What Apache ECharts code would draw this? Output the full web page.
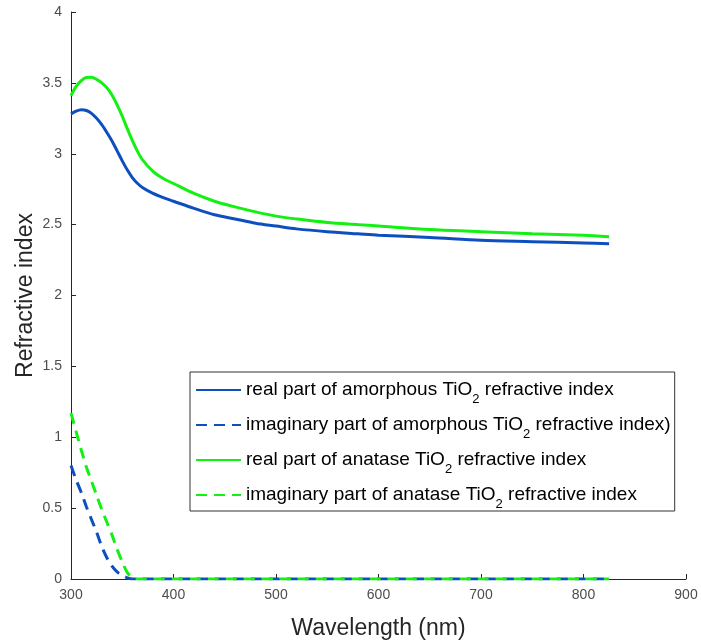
<!DOCTYPE html>
<html>
<head>
<meta charset="utf-8">
<script src="https://cdn.jsdelivr.net/npm/echarts@6/dist/echarts.min.js"></script>
<style>
html,body{margin:0;padding:0;background:#fff;}
#chart{width:701px;height:643px;}
</style>
</head>
<body>
<div id="chart"></div>
<script>
const wavelength = [300,305,310,315,320,325,330,335,340,345,350,355,360,365,370,380,390,400,420,440,460,480,500,520,550,580,600,650,700,750,800,825];
const realAmorphous = [3.28,3.30,3.31,3.305,3.285,3.25,3.205,3.15,3.09,3.02,2.95,2.885,2.83,2.79,2.76,2.72,2.69,2.665,2.615,2.57,2.54,2.51,2.49,2.47,2.45,2.435,2.425,2.41,2.39,2.38,2.37,2.365];
const imagAmorphous = [0.80,0.70,0.61,0.51,0.42,0.33,0.23,0.15,0.09,0.05,0.025,0.008,0,0,0,0,0,0,0,0,0,0,0,0,0,0,0,0,0,0,0,0];
const realAnatase = [3.41,3.475,3.515,3.538,3.54,3.525,3.50,3.465,3.415,3.345,3.265,3.175,3.09,3.015,2.955,2.875,2.825,2.79,2.72,2.665,2.625,2.59,2.56,2.54,2.515,2.50,2.49,2.465,2.45,2.435,2.425,2.415];
const imagAnatase = [1.17,1.04,0.91,0.79,0.69,0.59,0.49,0.40,0.31,0.21,0.12,0.045,0.01,0,0,0,0,0,0,0,0,0,0,0,0,0,0,0,0,0,0,0];
const seriesNames = [
  'real part of amorphous TiO2 refractive index',
  'imaginary part of amorphous TiO2 refractive index)',
  'real part of anatase TiO2 refractive index',
  'imaginary part of anatase TiO2 refractive index'
];
const xTicks = [300,400,500,600,700,800,900];
const yTicks = [0,0.5,1,1.5,2,2.5,3,3.5,4];

const BLUE = '#0d4fbf';
const GREEN = '#14f014';
function pairs(vals){ return wavelength.map((w,i)=>[w, vals[i]]); }
function mk(name, vals, color, dashed){
  return {
    name: name, type: 'line', data: pairs(vals), symbol: 'none',
    smooth: 0.3,
    lineStyle: {color: color, width: 3, type: dashed ? [11,7] : 'solid'},
    itemStyle: {color: color},
    z: dashed ? 3 : 2
  };
}
const chart = echarts.init(document.getElementById('chart'));
chart.setOption({
  animation: false,
  backgroundColor: '#fff',
  grid: {left: 71, right: 15, top: 12, bottom: 64, containLabel: false, outerBoundsMode: 'none'},
  xAxis: {
    type: 'value', min: 300, max: 900, interval: 100,
    name: 'Wavelength (nm)', nameLocation: 'middle', nameGap: 38, nameMoveOverlap: false,
    nameTextStyle: {fontFamily: 'Liberation Sans', fontSize: 23, color: '#262626'},
    axisLine: {show: true, lineStyle: {color: '#262626', width: 1}},
    axisTick: {show: true, inside: true, length: 5, lineStyle: {color: '#262626'}},
    axisLabel: {fontFamily: 'Liberation Sans', fontSize: 14, color: '#4d4d4d', margin: 9,
      formatter: v => xTicks.includes(v) ? String(v) : ''},
    splitLine: {show: false}
  },
  yAxis: {
    type: 'value', min: 0, max: 4, interval: 0.5,
    name: 'Refractive index', nameLocation: 'middle', nameGap: 34, nameRotate: 90, nameMoveOverlap: false,
    nameTextStyle: {fontFamily: 'Liberation Sans', fontSize: 23, color: '#262626'},
    axisLine: {show: true, lineStyle: {color: '#262626', width: 1}},
    axisTick: {show: true, inside: true, length: 5, lineStyle: {color: '#262626'}},
    axisLabel: {fontFamily: 'Liberation Sans', fontSize: 14, color: '#4d4d4d', margin: 9,
      formatter: v => yTicks.includes(v) ? String(v) : ''},
    splitLine: {show: false}
  },
  legend: {
    orient: 'vertical', left: 190, top: 372,
    padding: [2, 4, 0, 5],
    itemWidth: 45, itemHeight: 14, itemGap: 3,
    borderColor: '#333', borderWidth: 1, backgroundColor: '#fff',
    itemStyle: {color: 'rgba(0,0,0,0)', borderWidth: 0, opacity: 0},
    data: seriesNames,
    formatter: function(name){
      const parts = name.split('TiO2');
      return '{t|' + parts[0] + 'TiO}{s|2}{t|' + parts[1] + '}';
    },
    textStyle: {
      fontFamily: 'Liberation Sans', fontSize: 19, color: '#000',
      rich: {
        t: {fontFamily: 'Liberation Sans', fontSize: 19, lineHeight: 22, color: '#000'},
        s: {fontFamily: 'Liberation Sans', fontSize: 13, lineHeight: 14, color: '#000', padding: [19,0,0,0]}
      }
    }
  },
  series: [
    mk(seriesNames[0], realAmorphous, BLUE, false),
    mk(seriesNames[1], imagAmorphous, BLUE, true),
    mk(seriesNames[2], realAnatase, GREEN, false),
    mk(seriesNames[3], imagAnatase, GREEN, true)
  ]
});
</script>
</body>
</html>
